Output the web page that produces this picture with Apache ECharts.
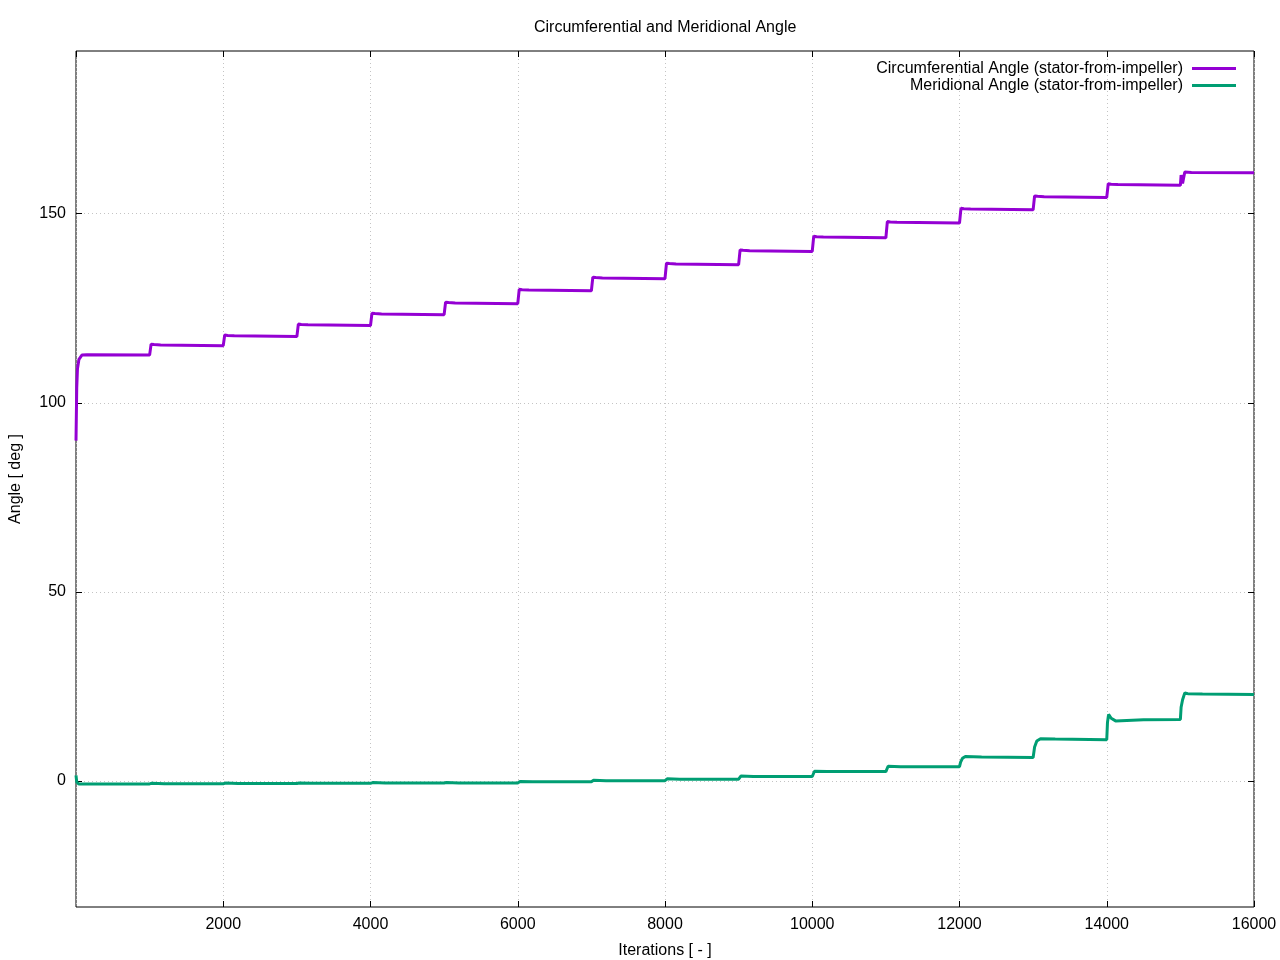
<!DOCTYPE html>
<html>
<head>
<meta charset="utf-8">
<script src="https://cdn.jsdelivr.net/npm/echarts@6/dist/echarts.min.js"></script>
<style>html,body{margin:0;padding:0;background:#fff}#c{width:1280px;height:960px}</style>
</head>
<body>
<div id="c"></div>
<script>
// Circumferential angle (stator-from-impeller): iteration / value pairs
const circIter = [0, 10, 20, 40, 80, 150,
  1000, 1020, 1060, 1150,
  2000, 2020, 2060, 2150,
  3000, 3020, 3060, 3150,
  4000, 4020, 4060, 4150,
  5000, 5020, 5060, 5150,
  6000, 6020, 6060, 6150,
  7000, 7020, 7060, 7150,
  8000, 8020, 8060, 8150,
  9000, 9020, 9060, 9150,
  10000, 10020, 10060, 10150,
  11000, 11020, 11060, 11150,
  12000, 12020, 12060, 12150,
  13000, 13020, 13060, 13150,
  14000, 14020, 14060, 14150,
  15000, 15010, 15030, 15060, 15150,
  16000];
const circVal = [90.0, 104.0, 109.0, 111.5, 112.6, 112.7,
  112.6, 115.5, 115.4, 115.3,
  115.1, 117.9, 117.8, 117.7,
  117.5, 120.8, 120.7, 120.6,
  120.4, 123.7, 123.6, 123.5,
  123.3, 126.6, 126.5, 126.4,
  126.2, 130.0, 129.9, 129.8,
  129.6, 133.2, 133.1, 133.0,
  132.8, 136.9, 136.8, 136.7,
  136.5, 140.4, 140.3, 140.2,
  140.0, 144.0, 143.9, 143.8,
  143.6, 147.9, 147.8, 147.7,
  147.5, 151.4, 151.3, 151.2,
  151.0, 154.7, 154.6, 154.5,
  154.3, 157.9, 157.8, 157.7,
  157.5, 160.2, 158.0, 161.0, 160.9,
  160.8];

// Meridional angle (stator-from-impeller): iteration / value pairs
const meridIter = [0, 10, 20, 40, 150,
  1000, 1030, 1200,
  2000, 2030, 2200,
  3000, 3030, 3200,
  4000, 4030, 4200,
  5000, 5030, 5200,
  6000, 6030, 6200,
  7000, 7030, 7200,
  8000, 8030, 8200,
  9000, 9030, 9200,
  10000, 10030, 10200,
  11000, 11030, 11200,
  12000, 12015, 12040, 12080, 12300,
  13000, 13020, 13050, 13100, 13300,
  14000, 14010, 14025, 14060, 14120, 14500,
  15000, 15010, 15030, 15060, 15100, 15300,
  16000];
const meridVal = [1.5, -0.3, -0.7, -0.8, -0.78,
  -0.75, -0.6, -0.7,
  -0.7, -0.55, -0.65,
  -0.65, -0.5, -0.6,
  -0.6, -0.4, -0.5,
  -0.5, -0.4, -0.5,
  -0.5, -0.1, -0.2,
  -0.2, 0.2, 0.1,
  0.1, 0.6, 0.5,
  0.5, 1.3, 1.2,
  1.2, 2.6, 2.5,
  2.5, 3.9, 3.8,
  3.8, 5.0, 6.0, 6.5, 6.35,
  6.2, 9.0, 10.6, 11.2, 11.1,
  10.9, 15.5, 17.6, 16.6, 15.9, 16.2,
  16.3, 19.5, 21.5, 23.3, 23.1, 23.0,
  22.9];

const xTickLabels = [2000, 4000, 6000, 8000, 10000, 12000, 14000, 16000];
const yTickLabels = [0, 50, 100, 150];

const FONT = '"Liberation Sans", Arial, sans-serif';
const FS = 16;
const toPairs = (xs, ys) => xs.map((x, i) => [x, ys[i]]);

const chart = echarts.init(document.getElementById('c'), null, {renderer: 'canvas'});
const gridLine = {show: true, lineStyle: {color: '#c4c4c4', width: 1, type: [1, 3]}};
const xTick = {show: true, inside: true, length: 6, lineStyle: {color: '#000', width: 1}};
const yTick = {show: true, inside: true, length: 6, lineStyle: {color: '#000', width: 1}, customValues: yTickLabels};

chart.setOption({
  animation: false,
  backgroundColor: '#fff',
  textStyle: {fontFamily: FONT},
  title: {
    text: 'Circumferential and Meridional Angle',
    left: 529, top: 15,
    textStyle: {fontSize: FS, fontWeight: 'normal', color: '#000', fontFamily: FONT}
  },
  legend: {
    orient: 'vertical',
    right: 44, top: 60,
    align: 'right',
    icon: 'rect',
    itemWidth: 44, itemHeight: 3,
    itemGap: 0,
    padding: 0,
    textStyle: {fontSize: FS, color: '#000', lineHeight: 17, fontFamily: FONT, padding: [0, 4, 0, 0]},
    data: ['Circumferential Angle (stator-from-impeller)', 'Meridional Angle (stator-from-impeller)']
  },
  grid: {left: 76, right: 26, top: 51, bottom: 53, show: true, borderColor: '#000', borderWidth: 1,
    containLabel: false, outerBoundsMode: 'none'},
  xAxis: [{
    type: 'value', min: 0, max: 16000, interval: 2000, position: 'bottom',
    name: 'Iterations [ - ]', nameLocation: 'middle', nameGap: 36,
    nameTextStyle: {fontSize: FS, color: '#000', fontFamily: FONT},
    axisLine: {show: false, onZero: false},
    axisTick: xTick,
    axisLabel: {showMinLabel: false, fontSize: FS, color: '#000', margin: 10, fontFamily: FONT,
      formatter: v => xTickLabels.includes(v) ? String(v) : ''},
    splitLine: gridLine
  }, {
    type: 'value', min: 0, max: 16000, interval: 2000, position: 'top',
    axisLine: {show: false, onZero: false}, axisTick: xTick, axisLabel: {show: false}, splitLine: {show: false}
  }],
  yAxis: [{
    type: 'value', min: -33.3, max: 193, position: 'left',
    name: 'Angle [ deg ]', nameLocation: 'middle', nameGap: 52, nameRotate: 90,
    nameTextStyle: {fontSize: FS, color: '#000', fontFamily: FONT},
    axisLine: {show: false, onZero: false},
    axisTick: yTick,
    axisLabel: {fontSize: FS, color: '#000', margin: 10, fontFamily: FONT, customValues: yTickLabels},
    splitLine: gridLine
  }, {
    type: 'value', min: -33.3, max: 193, position: 'right',
    axisLine: {show: false, onZero: false}, axisTick: yTick, axisLabel: {show: false}, splitLine: {show: false}
  }],
  series: [{
    name: 'Circumferential Angle (stator-from-impeller)',
    type: 'line', showSymbol: false, symbol: 'none',
    data: toPairs(circIter, circVal),
    lineStyle: {color: '#9400d3', width: 3},
    itemStyle: {color: '#9400d3'}
  }, {
    name: 'Meridional Angle (stator-from-impeller)',
    type: 'line', showSymbol: false, symbol: 'none',
    data: toPairs(meridIter, meridVal),
    lineStyle: {color: '#009e73', width: 3},
    itemStyle: {color: '#009e73'}
  }]
});
</script>
</body>
</html>
